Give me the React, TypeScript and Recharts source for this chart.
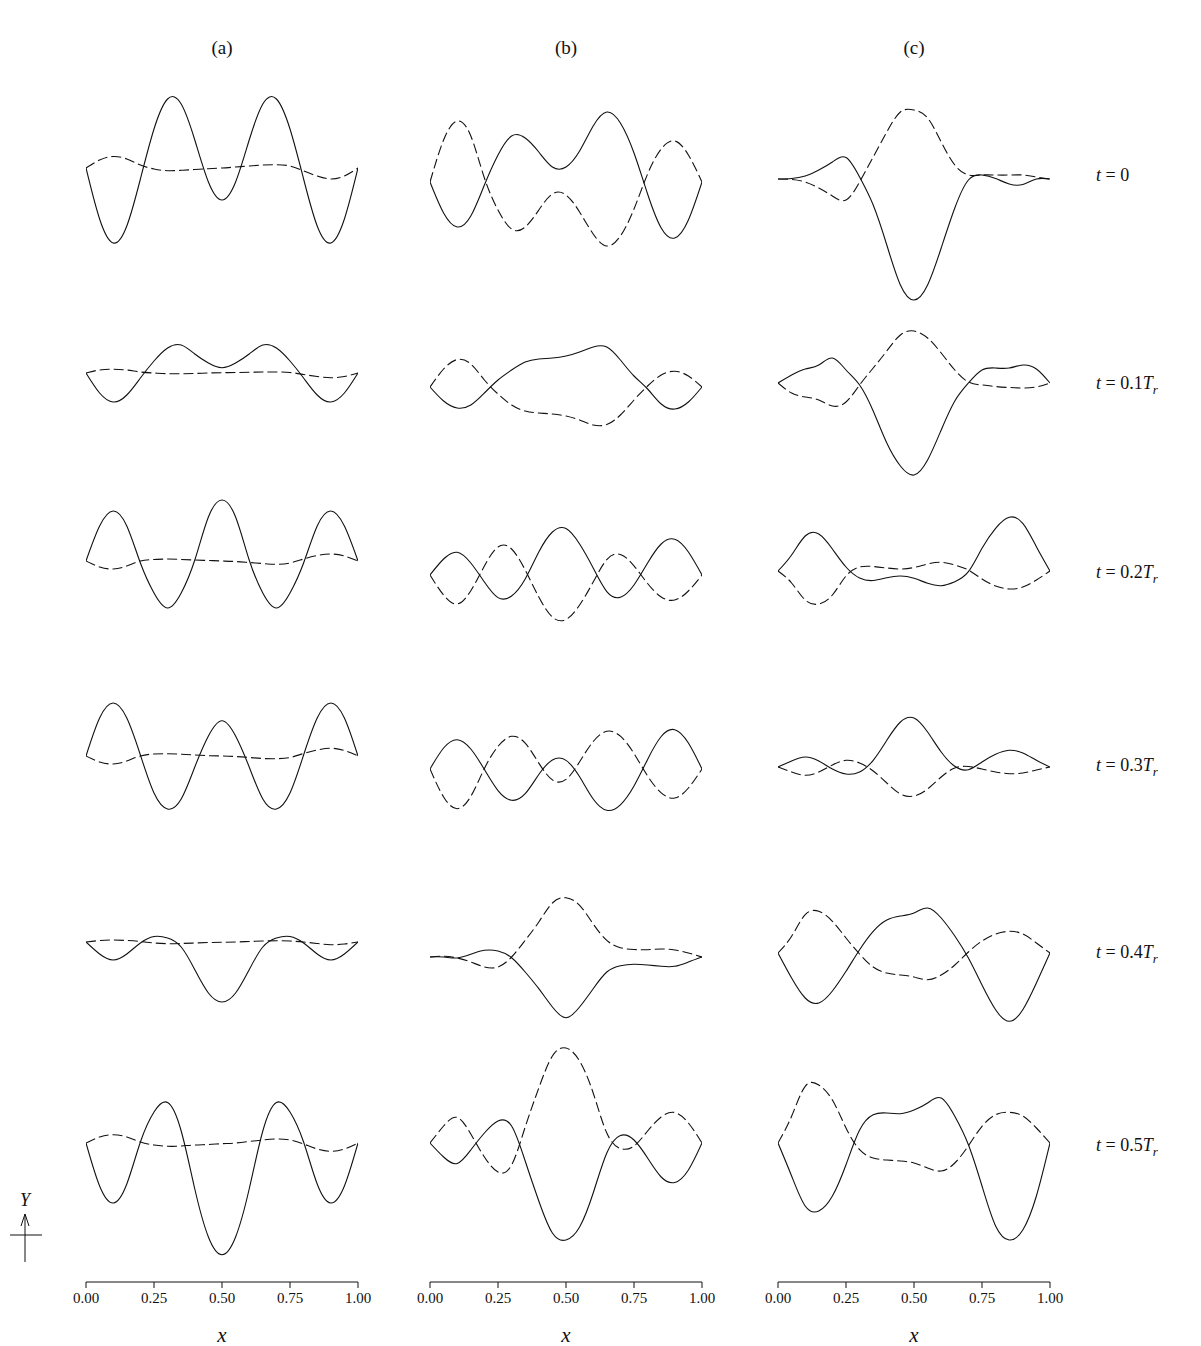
import { LineChart, Line, XAxis, YAxis } from "recharts";

// sample positions along x (shared by every panel)
const X = [0, 0.05, 0.1, 0.15, 0.2, 0.25, 0.3, 0.35, 0.4, 0.45, 0.5, 0.55, 0.6, 0.65, 0.7, 0.75, 0.8, 0.85, 0.9, 0.95, 1];

// column (a)
const A0_SOLID = [0, -0.51, -0.75, -0.58, -0.11, 0.39, 0.69, 0.64, 0.28, -0.14, -0.32, -0.14, 0.28, 0.64, 0.69, 0.39, -0.11, -0.58, -0.75, -0.51, 0];
const A0_DASH = [0, 0.08, 0.115, 0.09, 0.03, -0.01, -0.027, -0.023, -0.015, -0.007, 0, 0.01, 0.02, 0.03, 0.033, 0.02, -0.03, -0.08, -0.11, -0.08, 0];
const A1_SOLID = [0, -0.2, -0.29, -0.22, -0.05, 0.12, 0.25, 0.28, 0.19, 0.1, 0.053, 0.1, 0.19, 0.28, 0.25, 0.12, -0.05, -0.22, -0.29, -0.2, 0];
const A1_DASH = [0, 0.03, 0.037, 0.03, 0.01, 0, -0.007, -0.007, -0.005, 0, 0.003, 0.005, 0.007, 0.01, 0.01, 0.005, -0.015, -0.035, -0.047, -0.035, 0];
const A2_SOLID = [0, 0.35, 0.5, 0.35, -0.02, -0.32, -0.47, -0.32, 0.01, 0.44, 0.61, 0.44, 0.01, -0.32, -0.47, -0.32, -0.02, 0.35, 0.5, 0.35, 0];
const A2_DASH = [0, -0.06, -0.08, -0.05, 0, 0.015, 0.02, 0.015, 0.01, 0.005, 0, -0.005, -0.015, -0.025, -0.033, -0.02, 0.02, 0.055, 0.07, 0.05, 0];
const A3_SOLID = [0, 0.38, 0.53, 0.38, 0.01, -0.37, -0.53, -0.43, -0.11, 0.2, 0.353, 0.2, -0.11, -0.43, -0.53, -0.37, 0.01, 0.38, 0.53, 0.38, 0];
const A3_DASH = [0, -0.06, -0.08, -0.05, 0, 0.02, 0.023, 0.018, 0.01, 0.003, 0, -0.005, -0.015, -0.025, -0.027, -0.015, 0.025, 0.06, 0.077, 0.055, 0];
const A4_SOLID = [0, -0.12, -0.18, -0.12, -0.01, 0.055, 0.04, -0.05, -0.277, -0.51, -0.6, -0.51, -0.277, -0.05, 0.04, 0.055, -0.01, -0.12, -0.18, -0.12, 0];
const A4_DASH = [0, 0.015, 0.02, 0.015, 0.005, -0.01, -0.017, -0.015, -0.01, -0.005, -0.003, 0, 0.005, 0.01, 0.013, 0.01, 0, -0.015, -0.027, -0.02, 0];
const A5_SOLID = [0, -0.43, -0.6, -0.41, 0.01, 0.31, 0.405, 0.12, -0.46, -0.94, -1.117, -0.94, -0.46, 0.12, 0.405, 0.31, 0.01, -0.41, -0.6, -0.43, 0];
const A5_DASH = [0, 0.06, 0.083, 0.06, 0.01, -0.02, -0.033, -0.03, -0.02, -0.015, -0.007, 0, 0.015, 0.03, 0.04, 0.03, -0.01, -0.06, -0.083, -0.06, 0];

// column (b)
const B0_SOLID = [0, -0.31, -0.45, -0.34, -0.03, 0.27, 0.46, 0.44, 0.3, 0.15, 0.15, 0.31, 0.56, 0.7, 0.59, 0.29, -0.12, -0.46, -0.56, -0.38, 0];
const B0_DASH = [0, 0.42, 0.61, 0.46, 0.04, -0.28, -0.47, -0.45, -0.28, -0.12, -0.13, -0.3, -0.52, -0.64, -0.54, -0.27, 0.08, 0.33, 0.41, 0.27, 0];
const B1_SOLID = [0, -0.14, -0.21, -0.18, -0.06, 0.07, 0.17, 0.25, 0.28, 0.29, 0.31, 0.35, 0.4, 0.4, 0.27, 0.11, -0.02, -0.17, -0.22, -0.15, 0];
const B1_DASH = [0, 0.18, 0.275, 0.23, 0.07, -0.07, -0.18, -0.24, -0.26, -0.27, -0.29, -0.33, -0.38, -0.375, -0.28, -0.13, 0.01, 0.12, 0.157, 0.11, 0];
const B2_SOLID = [0, 0.16, 0.227, 0.12, -0.07, -0.226, -0.21, -0.04, 0.23, 0.43, 0.465, 0.31, 0.07, -0.166, -0.223, -0.1, 0.12, 0.31, 0.357, 0.23, 0];
const B2_DASH = [0, -0.2, -0.29, -0.157, 0.09, 0.28, 0.26, 0.05, -0.22, -0.42, -0.445, -0.3, -0.07, 0.153, 0.206, 0.092, -0.085, -0.22, -0.25, -0.16, 0];
const B3_SOLID = [0, 0.21, 0.293, 0.2, -0.005, -0.216, -0.313, -0.247, -0.055, 0.09, 0.086, -0.078, -0.3, -0.413, -0.358, -0.17, 0.096, 0.325, 0.393, 0.26, 0];
const B3_DASH = [0, -0.28, -0.397, -0.274, 0.005, 0.226, 0.327, 0.258, 0.059, -0.109, -0.104, 0.072, 0.275, 0.377, 0.328, 0.155, -0.07, -0.238, -0.29, -0.19, 0];
const B4_SOLID = [0, 0, -0.01, 0.027, 0.067, 0.06, -0.007, -0.15, -0.317, -0.5, -0.607, -0.5, -0.317, -0.15, -0.087, -0.073, -0.08, -0.093, -0.093, -0.05, 0];
const B4_DASH = [0, 0.007, -0.01, -0.05, -0.1, -0.1, 0, 0.167, 0.35, 0.54, 0.593, 0.517, 0.33, 0.167, 0.093, 0.075, 0.073, 0.08, 0.07, 0.04, 0];
const B5_SOLID = [0, -0.14, -0.205, -0.07, 0.1, 0.22, 0.17, -0.18, -0.58, -0.9, -0.97, -0.84, -0.5, -0.1, 0.075, 0.03, -0.15, -0.34, -0.395, -0.27, 0];
const B5_DASH = [0, 0.17, 0.255, 0.09, -0.14, -0.29, -0.22, 0.16, 0.55, 0.87, 0.95, 0.82, 0.5, 0.1, -0.055, -0.03, 0.12, 0.26, 0.305, 0.2, 0];

// column (c)
const C0_SOLID = [0, 0.005, 0.03, 0.09, 0.17, 0.215, 0.02, -0.26, -0.66, -1.06, -1.21, -1.06, -0.69, -0.29, -0.01, 0.04, 0.005, -0.05, -0.055, 0, 0];
const C0_DASH = [0, -0.005, -0.03, -0.09, -0.17, -0.21, -0.03, 0.22, 0.47, 0.67, 0.69, 0.61, 0.37, 0.14, 0.04, 0.04, 0.04, 0.04, 0.04, 0.02, 0];
const C1_SOLID = [0, 0.08, 0.14, 0.18, 0.25, 0.13, -0.02, -0.28, -0.6, -0.83, -0.92, -0.77, -0.47, -0.18, 0, 0.13, 0.15, 0.15, 0.18, 0.14, 0];
const C1_DASH = [0, -0.1, -0.14, -0.17, -0.23, -0.19, -0.02, 0.15, 0.32, 0.48, 0.52, 0.45, 0.3, 0.13, 0.01, -0.02, -0.035, -0.045, -0.05, -0.04, 0];
const C2_SOLID = [0, 0.16, 0.35, 0.37, 0.22, 0.04, -0.07, -0.095, -0.067, -0.05, -0.073, -0.123, -0.147, -0.107, -0.007, 0.227, 0.427, 0.537, 0.477, 0.243, 0];
const C2_DASH = [0, -0.12, -0.29, -0.33, -0.24, -0.05, 0.04, 0.045, 0.03, 0.02, 0.035, 0.07, 0.087, 0.06, 0.01, -0.08, -0.15, -0.18, -0.16, -0.09, 0];
const C3_SOLID = [0, 0.06, 0.1, 0.06, -0.02, -0.07, -0.05, 0.067, 0.267, 0.45, 0.49, 0.35, 0.15, 0.007, -0.027, 0.05, 0.127, 0.167, 0.14, 0.067, 0];
const C3_DASH = [0, -0.05, -0.083, -0.05, 0.02, 0.067, 0.04, -0.04, -0.16, -0.27, -0.29, -0.22, -0.1, -0.01, 0.005, -0.02, -0.05, -0.067, -0.06, -0.03, 0];
const C4_SOLID = [0, -0.25, -0.45, -0.5, -0.38, -0.183, 0.033, 0.217, 0.33, 0.37, 0.4, 0.45, 0.35, 0.17, -0.05, -0.32, -0.567, -0.683, -0.567, -0.3, 0];
const C4_DASH = [0, 0.167, 0.383, 0.417, 0.317, 0.15, -0.01, -0.14, -0.2, -0.22, -0.24, -0.267, -0.22, -0.12, 0.01, 0.12, 0.19, 0.217, 0.19, 0.1, 0];
const C5_SOLID = [0, -0.33, -0.63, -0.68, -0.53, -0.217, 0.13, 0.283, 0.3, 0.293, 0.33, 0.4, 0.45, 0.267, -0.017, -0.43, -0.83, -0.97, -0.87, -0.53, 0];
const C5_DASH = [0, 0.267, 0.567, 0.58, 0.43, 0.15, -0.067, -0.15, -0.17, -0.18, -0.2, -0.25, -0.28, -0.2, -0.027, 0.167, 0.283, 0.307, 0.27, 0.15, 0];

const COLUMN_TITLES = ["(a)", "(b)", "(c)"];
const TIME_LABELS = ["0", "0.1", "0.2", "0.3", "0.4", "0.5"];
const X_TICKS = [0, 0.25, 0.5, 0.75, 1];

const SERIF = '"Liberation Serif", "Times New Roman", serif';
const COL_LEFT = [86, 430, 778];
const COL_W = 272;
const PANEL_H = 300; // 100px per unit
const HALF = PANEL_H / 200;
const AXIS_Y = 1282;

// zero line (page y) for every panel, by column then row
const BASES = [
  [168, 373, 561, 756, 942, 1143],
  [182, 387, 575, 769, 957, 1143],
  [179, 383, 571, 767, 953, 1143],
];
const SERIES = [
  [[A0_SOLID, A0_DASH], [A1_SOLID, A1_DASH], [A2_SOLID, A2_DASH], [A3_SOLID, A3_DASH], [A4_SOLID, A4_DASH], [A5_SOLID, A5_DASH]],
  [[B0_SOLID, B0_DASH], [B1_SOLID, B1_DASH], [B2_SOLID, B2_DASH], [B3_SOLID, B3_DASH], [B4_SOLID, B4_DASH], [B5_SOLID, B5_DASH]],
  [[C0_SOLID, C0_DASH], [C1_SOLID, C1_DASH], [C2_SOLID, C2_DASH], [C3_SOLID, C3_DASH], [C4_SOLID, C4_DASH], [C5_SOLID, C5_DASH]],
];
const LABEL_Y = [176, 384, 573, 766, 953, 1146];

function Panel({ left, base, solid, dashed }: { left: number; base: number; solid: number[]; dashed: number[] }) {
  const data = X.map((x, i) => ({ x, s: solid[i], d: dashed[i] }));
  return (
    <div style={{ position: "absolute", left, top: base - PANEL_H / 2 }}>
      <LineChart width={COL_W} height={PANEL_H} data={data} margin={{ top: 0, right: 0, bottom: 0, left: 0 }}>
        <XAxis hide type="number" dataKey="x" domain={[0, 1]} />
        <YAxis hide type="number" domain={[-HALF, HALF]} allowDataOverflow />
        <Line type="natural" dataKey="s" stroke="#111" strokeWidth={1.1} dot={false} isAnimationActive={false} />
        <Line type="natural" dataKey="d" stroke="#111" strokeWidth={1.1} strokeDasharray="10 4" dot={false} isAnimationActive={false} />
      </LineChart>
    </div>
  );
}

function BottomAxis({ left }: { left: number }) {
  const data = X_TICKS.map((x) => ({ x }));
  return (
    <div style={{ position: "absolute", left: left - 30, top: AXIS_Y - 10 }}>
      <LineChart width={COL_W + 60} height={50} data={data} margin={{ top: 0, right: 30, bottom: 0, left: 30 }}>
        <XAxis
          type="number"
          dataKey="x"
          domain={[0, 1]}
          ticks={X_TICKS}
          tickFormatter={(v: number) => v.toFixed(2)}
          height={40}
          stroke="#111"
          tickSize={6}
          tickMargin={4}
          tick={{ fill: "#111", fontSize: 15, fontFamily: SERIF }}
        />
        <YAxis hide domain={[0, 1]} />
      </LineChart>
    </div>
  );
}

export default function App() {
  return (
    <div style={{ position: "absolute", left: 0, top: 0, width: 1201, height: 1346, background: "#fff", fontFamily: SERIF, color: "#111" }}>
      {COLUMN_TITLES.map((t, i) => (
        <div key={t} style={{ position: "absolute", left: COL_LEFT[i], width: COL_W, top: 37, textAlign: "center", fontSize: 19 }}>
          {t}
        </div>
      ))}
      {SERIES.map((col, ci) =>
        col.map(([solid, dashed], ri) => (
          <Panel key={`${ci}-${ri}`} left={COL_LEFT[ci]} base={BASES[ci][ri]} solid={solid} dashed={dashed} />
        ))
      )}
      {TIME_LABELS.map((t, i) => (
        <div key={t} style={{ position: "absolute", left: 1096, top: LABEL_Y[i] - 11, fontSize: 18, whiteSpace: "nowrap" }}>
          <i>t</i> = {t}
          {i > 0 && (
            <>
              <i>T</i>
              <sub style={{ fontSize: 13, fontStyle: "italic" }}>r</sub>
            </>
          )}
        </div>
      ))}
      {COL_LEFT.map((l) => (
        <BottomAxis key={l} left={l} />
      ))}
      {COL_LEFT.map((l) => (
        <div key={`x${l}`} style={{ position: "absolute", left: l, width: COL_W, top: AXIS_Y + 41, textAlign: "center", fontSize: 21, fontStyle: "italic" }}>
          x
        </div>
      ))}
      <svg style={{ position: "absolute", left: 0, top: 1180 }} width={60} height={90}>
        <text x={25} y={26} fontFamily={SERIF} fontSize={18} fontStyle="italic" textAnchor="middle" fill="#111">
          Y
        </text>
        <line x1={25} y1={34} x2={25} y2={82} stroke="#111" strokeWidth={1} />
        <path d="M21,46 L25,34 L29,46" fill="none" stroke="#111" strokeWidth={1} />
        <line x1={10} y1={55} x2={42} y2={55} stroke="#111" strokeWidth={1} />
      </svg>
    </div>
  );
}
